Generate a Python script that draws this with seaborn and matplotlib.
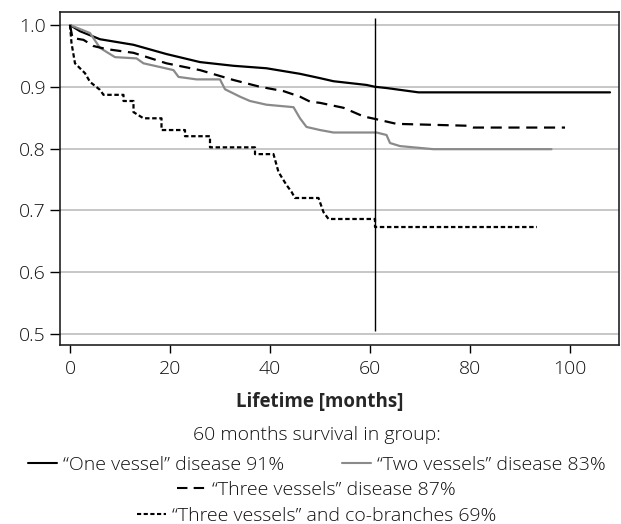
import pandas as pd
import matplotlib.pyplot as plt
import seaborn as sns
from matplotlib.lines import Line2D

# survival curves (time in months, survival fraction)
one_t = [0, 2, 6, 12.7, 19.3, 26, 32.7, 39.3, 46, 50, 52.7, 59.3, 61, 63.3, 69.7, 108]
one_s = [1.0, 0.99, 0.977, 0.968, 0.953, 0.94, 0.934, 0.930, 0.921, 0.914, 0.909, 0.903, 0.900, 0.898, 0.891, 0.891]

two_t = [0, 4, 6, 9, 13.3, 14.7, 18, 20.7, 21.7, 25.3, 30, 31, 34, 36, 39.3, 44.7, 46, 47.3,
         50, 52.7, 61.3, 63.3, 64, 66, 72.7, 96.3]
two_s = [1.0, 0.987, 0.963, 0.948, 0.946, 0.938, 0.932, 0.927, 0.916, 0.912, 0.912, 0.896, 0.884, 0.877,
         0.871, 0.867, 0.849, 0.835, 0.830, 0.826, 0.826, 0.822, 0.809, 0.804, 0.799, 0.799]

three_t = [0, 0.5, 2.7, 4.7, 7.3, 12.7, 19.3, 26, 32.7, 38, 42.7, 46, 48, 50, 54.7, 58.7, 61, 65.3, 79.3, 80.7, 99]
three_s = [1.0, 0.979, 0.976, 0.966, 0.961, 0.955, 0.938, 0.927, 0.911, 0.900, 0.893, 0.884, 0.876, 0.874,
           0.866, 0.852, 0.848, 0.840, 0.837, 0.834, 0.834]

cob_t = [0, 0.3, 1, 3, 4, 6, 6.7, 10.7, 10.7, 12.7, 12.7, 14.7, 18.3, 18.3, 23, 23, 28, 28, 37, 37,
         40.7, 41.7, 43.3, 44.3, 45, 49.7, 50.7, 51.7, 61, 61, 93.4]
cob_s = [1.0, 0.971, 0.938, 0.922, 0.908, 0.895, 0.887, 0.887, 0.877, 0.877, 0.859, 0.849, 0.849, 0.830,
         0.830, 0.820, 0.820, 0.802, 0.802, 0.791, 0.791, 0.762, 0.741, 0.730, 0.72, 0.72, 0.697, 0.686,
         0.686, 0.673, 0.673]

groups = ["one", "two", "three", "cob"]
labels = ["\u201cOne vessel\u201d disease 91%",
          "\u201cTwo vessels\u201d disease 83%",
          "\u201cThree vessels\u201d disease 87%",
          "\u201cThree vessels\u201d and co-branches 69%"]
colors = {"one": "black", "two": "#8a8a8a", "three": "black", "cob": "black"}
dashes = {"one": "", "two": "", "three": (5, 3), "cob": (2, 1.2)}

frames = []
for g, t, s in zip(groups, [one_t, two_t, three_t, cob_t], [one_s, two_s, three_s, cob_s]):
    frames.append(pd.DataFrame({"time": t, "surv": s, "group": g}))
df = pd.concat(frames, ignore_index=True)

sns.set_style("white")
plt.rcParams['font.family'] = ['Open Sans', 'DejaVu Sans']
plt.rcParams['font.weight'] = 'light'
plt.rcParams['text.color'] = '#111111'
plt.rcParams['xtick.labelcolor'] = '#111111'
plt.rcParams['ytick.labelcolor'] = '#111111'

fig = plt.figure(figsize=(6.21, 5.24), dpi=100)
ax = fig.add_axes([0.0966, 0.3416, 0.9002, 0.6354])

ax.yaxis.grid(True, color="#bdbdbd", lw=1.2)
ax.set_axisbelow(True)

sns.lineplot(data=df, x="time", y="surv", hue="group", style="group", palette=colors, dashes=dashes,
             estimator=None, sort=False, lw=1.6, legend=False, ax=ax)

# 60-month marker
ax.vlines(61, 0.505, 1.011, color="black", lw=1)

ax.set_xlim(-2, 109.8)
ax.set_ylim(0.482, 1.021)
ax.set_xticks([0, 20, 40, 60, 80, 100])
ax.set_yticks([0.5, 0.6, 0.7, 0.8, 0.9, 1.0])
ax.set_yticklabels(["0.5", "0.6", "0.7", "0.8", "0.9", "1.0"])
ax.tick_params(axis="both", labelsize=14, width=1, color="black", direction="out",
               left=True, bottom=True)
ax.tick_params(axis="x", length=6, pad=5)
ax.tick_params(axis="y", length=7, pad=3)
for sp in ax.spines.values():
    sp.set_color("#222222")
    sp.set_linewidth(1.2)
ax.set_xlabel("Lifetime [months]", fontsize=13.5, fontweight="bold")
ax.xaxis.set_label_coords(0.465, -0.14)
ax.set_ylabel("")

cx = 0.51
fig.text(cx, 0.17, "60 months survival in group:", ha="center", va="center", fontsize=14)

hl = [Line2D([], [], color=colors[g], lw=1.5, linestyle=(0, dashes[g]) if dashes[g] else "-") for g in groups]
leg_kw = dict(loc="center", frameon=False, fontsize=14, handlelength=1.5, handletextpad=0.3,
              borderaxespad=0, borderpad=0)
l1 = fig.legend(hl[:2], labels[:2], bbox_to_anchor=(cx, 0.1126), ncol=2, columnspacing=3.0, **leg_kw)
l2 = fig.legend(hl[2:3], labels[2:3], bbox_to_anchor=(cx, 0.065), **leg_kw)
l3 = fig.legend(hl[3:], labels[3:], bbox_to_anchor=(cx, 0.015), **leg_kw)

fig.savefig("out.png", dpi=100)
